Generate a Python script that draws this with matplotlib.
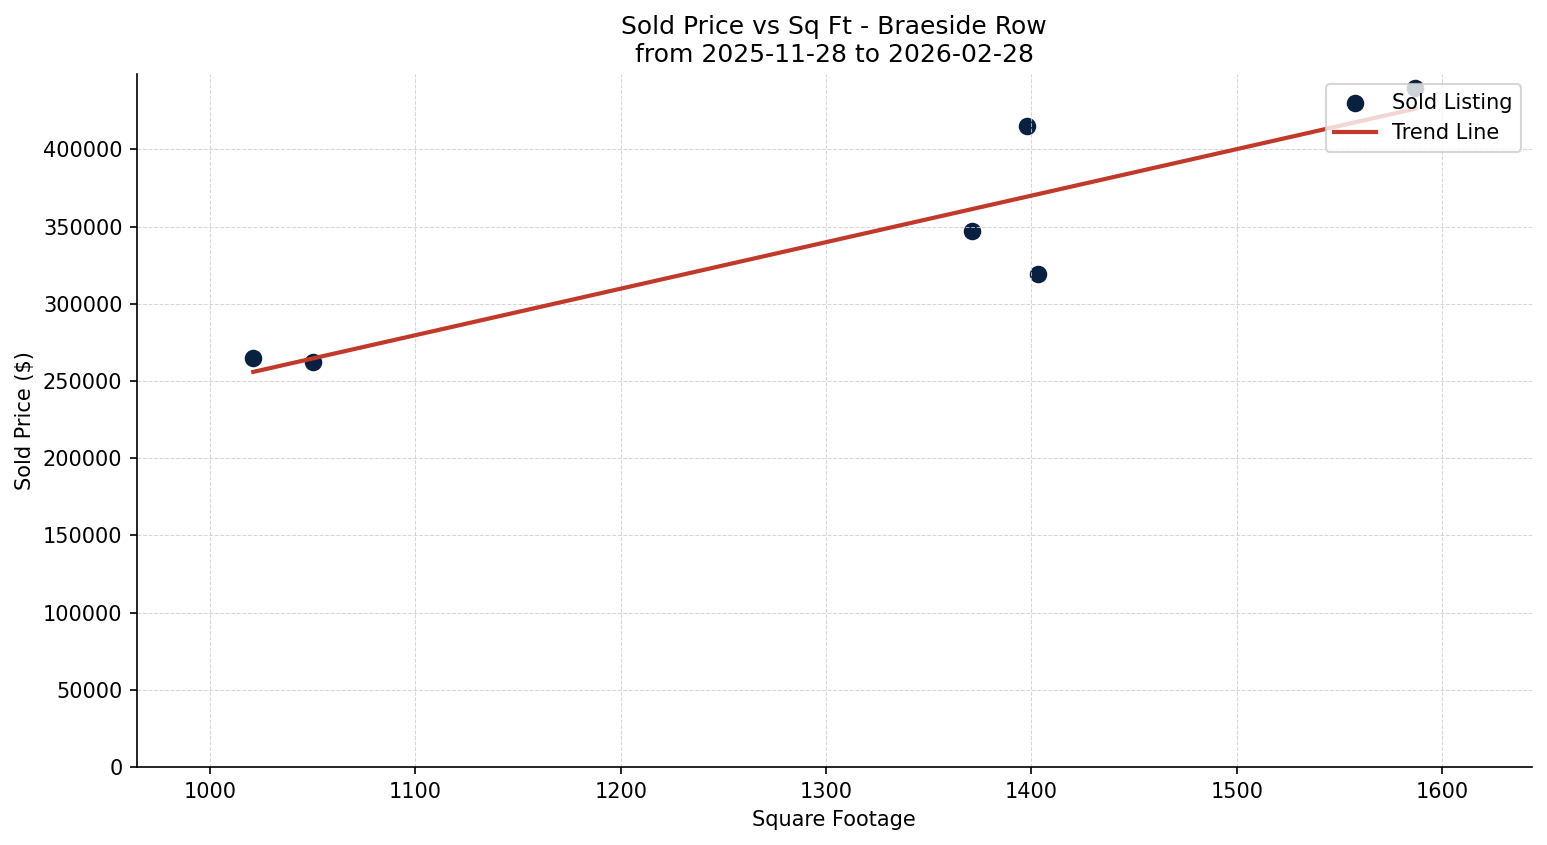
import matplotlib
matplotlib.use('Agg')
import matplotlib.pyplot as plt
import numpy as np

sqft = [1021, 1050, 1371, 1398, 1403, 1587]
sold_price = [265000, 262500, 347000, 415000, 319000, 440000]
title = 'Sold Price vs Sq Ft - Braeside Row\nfrom 2025-11-28 to 2026-02-28'

point_color = '#0a2040'
line_color = '#c0392b'

x = np.array(sqft, dtype=float)
y = np.array(sold_price, dtype=float)

fig, ax = plt.subplots(figsize=(1547 / 150, 845 / 150), dpi=150)
fig.subplots_adjust(left=0.0886, right=0.990, top=0.9124, bottom=0.0923)

ax.scatter(x, y, s=55, color=point_color, label='Sold Listing')

# linear trend over the sold listings
coef = np.polyfit(x, y, 1)
xs = np.array([x.min(), x.max()])
ax.plot(xs, np.polyval(coef, xs), color=line_color, linewidth=2,
        label='Trend Line')

pad = (x.max() - x.min()) * 0.1
ax.set_xlim(x.min() - pad, x.max() + pad)
ax.set_ylim(0, y.max() * 1.02)

ax.set_title(title, fontsize=12)
ax.set_xlabel('Square Footage', fontsize=10)
ax.set_ylabel('Sold Price ($)', fontsize=10)
ax.tick_params(labelsize=10)
ax.ticklabel_format(axis='y', style='plain', useOffset=False)

ax.grid(True, linestyle='--', linewidth=0.5, color='#cccccc', alpha=0.8)
ax.spines['top'].set_visible(False)
ax.spines['right'].set_visible(False)

ax.legend(loc='upper right', fontsize=10)

fig.savefig('out.png', dpi=150)
